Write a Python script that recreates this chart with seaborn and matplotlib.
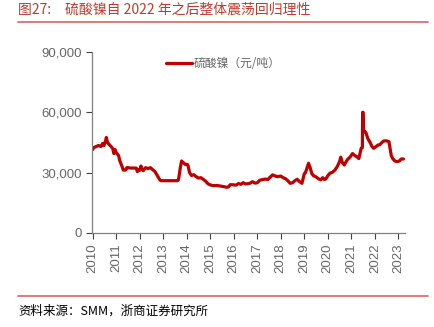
import matplotlib
matplotlib.use("Agg")
import matplotlib.pyplot as plt
import seaborn as sns
import pandas as pd
from matplotlib.lines import Line2D

title = "图27:　硫酸镍自 2022 年之后整体震荡回归理性"
source = "资料来源：SMM，浙商证券研究所"
series_name = "硫酸镍（元/吨）"

years = [2010.00, 2010.05, 2010.15, 2010.25, 2010.35, 2010.42, 2010.48, 2010.55, 2010.58, 2010.63,
         2010.70, 2010.78, 2010.85, 2010.90, 2010.95, 2011.00, 2011.10, 2011.15, 2011.25, 2011.30,
         2011.40, 2011.45, 2011.50, 2011.60, 2011.75, 2011.85, 2011.90, 2011.95, 2012.00, 2012.05,
         2012.10, 2012.15, 2012.25, 2012.35, 2012.45, 2012.55, 2012.65, 2012.75, 2012.85, 2012.90,
         2013.00, 2013.30, 2013.60, 2013.65, 2013.72, 2013.78, 2013.85, 2013.95, 2014.00, 2014.05,
         2014.12, 2014.20, 2014.30, 2014.40, 2014.50, 2014.60, 2014.70, 2014.80, 2014.90, 2015.00,
         2015.10, 2015.30, 2015.50, 2015.60, 2015.70, 2015.78, 2015.85, 2015.95, 2016.10, 2016.20,
         2016.30, 2016.40, 2016.50, 2016.60, 2016.70, 2016.80, 2016.90, 2017.00, 2017.10, 2017.20,
         2017.35, 2017.45, 2017.55, 2017.65, 2017.75, 2017.85, 2018.00, 2018.10, 2018.20, 2018.30,
         2018.40, 2018.50, 2018.60, 2018.70, 2018.80, 2018.90, 2018.95, 2019.00, 2019.05, 2019.12,
         2019.18, 2019.25, 2019.32, 2019.40, 2019.50, 2019.60, 2019.70, 2019.78, 2019.85, 2019.92,
         2020.00, 2020.10, 2020.20, 2020.30, 2020.40, 2020.50, 2020.55, 2020.62, 2020.70, 2020.78,
         2020.85, 2020.95, 2021.05, 2021.15, 2021.25, 2021.32, 2021.37, 2021.42, 2021.47, 2021.48,
         2021.50, 2021.52, 2021.58, 2021.63, 2021.70, 2021.80, 2021.88, 2021.95, 2022.05, 2022.15,
         2022.22, 2022.30, 2022.38, 2022.50, 2022.60, 2022.65, 2022.70, 2022.75, 2022.85, 2022.95,
         2023.05, 2023.12, 2023.22]
prices = [41500, 42500, 43000, 43500, 43000, 44500, 43500, 46000, 47500, 45000,
          44000, 43000, 42000, 39500, 41500, 40000, 38500, 36000, 33000, 31300,
          31300, 32500, 32500, 32300, 32300, 32300, 30500, 31500, 31200, 33300,
          31800, 31000, 32500, 32000, 32500, 31500, 30500, 28500, 26500, 26000,
          26000, 26000, 26000, 26500, 32000, 35800, 35000, 34000, 34200, 33800,
          30000, 28600, 29000, 28000, 27300, 27500, 26700, 25800, 24500, 23900,
          23600, 23600, 23200, 23000, 22700, 23000, 24000, 24000, 23800, 24600,
          24200, 25000, 24400, 24500, 24800, 25500, 24800, 25000, 26200, 26500,
          26800, 26600, 27800, 28900, 28400, 28000, 28300, 27500, 27000, 26000,
          24700, 25000, 26000, 26700, 25500, 24700, 27000, 29500, 30000, 32500,
          34700, 32500, 29500, 28400, 27900, 27000, 26400, 27500, 26600, 26900,
          28500, 29800, 30200, 31300, 33000, 35500, 37700, 35000, 33800, 35500,
          36700, 37800, 39500, 38500, 37800, 37000, 39500, 42100, 42500, 60000,
          60000, 50400, 50500, 49600, 47000, 45000, 43000, 42100, 43000, 43800,
          44000, 45000, 45800, 45800, 45400, 42000, 38500, 37200, 35800, 35500,
          35800, 36800, 36800]

year_ticks = list(range(2010, 2024))
y_ticks = [0, 30000, 60000, 90000]

sns.set_style("ticks")
plt.rcParams['font.family'] = ['Liberation Sans', 'Noto Sans CJK SC', 'DejaVu Sans']

fig = plt.figure(figsize=(4.34, 3.27), dpi=100)
ax = fig.add_axes([0.212, 0.2875, 0.721, 0.5535])

df = pd.DataFrame({"year": years, "price": prices})
line_color = "#C00000"
sns.lineplot(data=df, x="year", y="price", ax=ax, color=line_color, linewidth=2.3, legend=False)

ax.set_xlim(2009.97, 2023.28)
ax.set_ylim(0, 90000)
ax.set_xticks(year_ticks)
ax.set_xticklabels([str(y) for y in year_ticks], rotation=90)
ax.set_yticks(y_ticks)
ax.set_yticklabels([f"{v:,}" for v in y_ticks])
ax.set_xlabel("")
ax.set_ylabel("")
grey = "#666666"
ax.tick_params(axis="both", colors="#404040", labelcolor=grey, labelsize=9.5, length=4, width=0.8)
for s in ["top", "right"]:
    ax.spines[s].set_visible(False)
for s in ["left", "bottom"]:
    ax.spines[s].set_color("#808080")
    ax.spines[s].set_linewidth(0.9)

handle = Line2D([0], [0], color=line_color, linewidth=2.3)
leg = ax.legend([handle], [series_name], loc="upper center", bbox_to_anchor=(0.42, 1.03),
                frameon=False, handlelength=2.2, handletextpad=0.2,
                prop={'family': ['Noto Sans CJK SC'], 'size': 8.5})
for t in leg.get_texts():
    t.set_color(grey)

fig.text(18 / 434, 1 - 10 / 327, title, color="#C0392B", fontsize=10, va="center", ha="left",
         family=['Noto Sans CJK SC', 'DejaVu Sans'])
fig.add_artist(Line2D([18 / 434, 428 / 434], [1 - 22 / 327, 1 - 22 / 327], color="#E06060", linewidth=1.2))
fig.add_artist(Line2D([18 / 434, 428 / 434], [1 - 296 / 327, 1 - 296 / 327], color="#E06060", linewidth=1.2))
fig.text(18 / 434, 1 - 311 / 327, source, color="#000000", fontsize=9, va="center", ha="left",
         family=['Noto Sans CJK SC', 'DejaVu Sans'])

fig.savefig("out.png", dpi=100)
